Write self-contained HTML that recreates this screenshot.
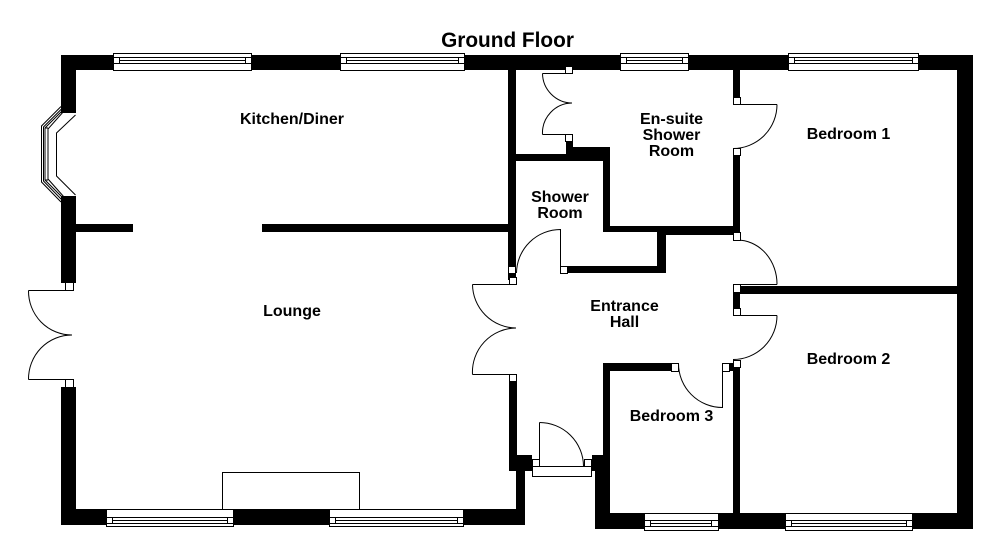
<!DOCTYPE html>
<html>
<head>
<meta charset="utf-8">
<style>
html,body{margin:0;padding:0;background:#fff;width:1000px;height:558px;overflow:hidden}
svg{display:block}
text{font-family:"Liberation Sans",Arial,sans-serif;font-weight:bold;font-size:16px;fill:#000;text-anchor:middle}
.w{fill:#000;stroke:none}
.l{fill:none;stroke:#000;stroke-width:1}
.f{fill:#fff;stroke:#000;stroke-width:1}
.c{shape-rendering:crispEdges}
</style>
</head>
<body>
<svg width="1000" height="558" viewBox="0 0 1000 558" xmlns="http://www.w3.org/2000/svg">
<!-- walls -->
<g class="w c">
<rect x="61" y="55" width="912" height="15"/>
<rect x="957" y="55" width="16" height="474"/>
<rect x="61" y="55" width="15" height="58"/>
<rect x="61" y="196" width="15" height="87"/>
<rect x="61" y="387" width="15" height="138"/>
<rect x="61" y="509" width="464" height="16"/>
<rect x="595" y="513" width="378" height="16"/>
<rect x="76" y="224" width="57" height="8"/>
<rect x="262" y="224" width="247" height="8"/>
<rect x="508" y="70" width="8" height="210"/>
<rect x="509" y="380" width="8" height="80"/>
<rect x="509" y="455" width="23" height="16"/>
<rect x="516" y="470" width="9" height="50"/>
<rect x="592" y="455" width="18" height="16"/>
<rect x="595" y="470" width="15" height="50"/>
<rect x="603" y="363" width="7" height="95"/>
<rect x="603" y="363" width="68" height="8"/>
<rect x="516" y="154" width="50" height="7"/>
<rect x="566" y="141" width="7" height="20"/>
<rect x="566" y="147" width="44" height="14"/>
<rect x="603" y="147" width="7" height="85"/>
<rect x="603" y="226" width="133" height="6"/>
<rect x="657" y="226" width="83" height="9"/>
<rect x="657" y="226" width="9" height="47"/>
<rect x="568" y="266" width="98" height="7"/>
<rect x="733" y="70" width="7" height="28"/>
<rect x="733" y="155" width="7" height="78"/>
<rect x="733" y="292" width="7" height="17"/>
<rect x="733" y="366" width="7" height="148"/>
<rect x="728" y="363" width="6" height="8"/>
<rect x="740" y="286" width="218" height="8"/>
</g>
<!-- windows -->
<g class="c">
<rect class="f" x="113.5" y="53.5" width="138" height="17"/>
<path class="l" d="M113.5 57.5H251.5M113.5 63.5H251.5M119.5 57.5V63.5M245.5 57.5V63.5M119.5 60.5H245.5"/>
<rect class="f" x="340.5" y="53.5" width="124" height="17"/>
<path class="l" d="M340.5 57.5H464.5M340.5 63.5H464.5M346.5 57.5V63.5M458.5 57.5V63.5M346.5 60.5H458.5"/>
<rect class="f" x="620.5" y="53.5" width="68" height="17"/>
<path class="l" d="M620.5 57.5H688.5M620.5 63.5H688.5M626.5 57.5V63.5M682.5 57.5V63.5M626.5 60.5H682.5"/>
<rect class="f" x="788.5" y="53.5" width="130" height="17"/>
<path class="l" d="M788.5 57.5H918.5M788.5 63.5H918.5M794.5 57.5V63.5M912.5 57.5V63.5M794.5 60.5H912.5"/>
<rect class="f" x="106.5" y="509.5" width="127" height="17"/>
<path class="l" d="M106.5 517.5H233.5M106.5 523.5H233.5M112.5 517.5V523.5M227.5 517.5V523.5M112.5 520.5H227.5"/>
<rect class="f" x="329.5" y="509.5" width="134" height="17"/>
<path class="l" d="M329.5 517.5H463.5M329.5 523.5H463.5M335.5 517.5V523.5M457.5 517.5V523.5M335.5 520.5H457.5"/>
<rect class="f" x="644.5" y="513.5" width="74" height="17"/>
<path class="l" d="M644.5 520.5H718.5M644.5 526.5H718.5M650.5 520.5V526.5M711.5 520.5V526.5M650.5 523.5H711.5"/>
<rect class="f" x="785.5" y="513.5" width="127" height="17"/>
<path class="l" d="M785.5 520.5H912.5M785.5 526.5H912.5M791.5 520.5V526.5M906.5 520.5V526.5M791.5 523.5H906.5"/>
<!-- chimney / fireplace -->
<path class="l" d="M222.5 509V472.5H359.5V509"/>
<!-- porch -->
<rect class="f" x="532.5" y="466.5" width="59" height="10"/>
<rect class="f" x="532.5" y="459.5" width="7" height="7"/>
<rect class="f" x="584.5" y="459.5" width="7" height="7"/>
<path class="l" d="M539.5 466V422.5"/>
</g>
<!-- bay window -->
<g>
<path class="l" d="M61 106.5L41.5 126V182L61 202"/>
<path class="l" d="M62 108.5L43.5 127V181L62 200"/>
<path class="l" d="M63 110L45 128V180L63 198"/>
<path class="l" d="M64 111L48 129V179L64 197"/>
<path class="l" d="M45 128H48M45 180H48"/>
<path class="l" d="M75.5 115L56.5 133V176L75.5 195"/>
</g>
<!-- door leaves and swings -->
<g class="l">
<path d="M539.5 422.5A44 44 0 0 1 583.5 466"/>
<path d="M28.5 290.5H73M28.5 290.5A44 44 0 0 0 72 335"/>
<path d="M28.5 379.5H73M28.5 379.5A44 44 0 0 1 72 335"/>
<path d="M472.5 284.5H516M472.5 284.5A44 44 0 0 0 516 328"/>
<path d="M472.5 374.5H516M472.5 374.5A44 44 0 0 1 516 328"/>
<path d="M560.5 273V229.5A44 44 0 0 0 516.5 273"/>
<path d="M542.5 73.5H566M542.5 73.5A30 30 0 0 0 572 103"/>
<path d="M542.5 134.5H566M542.5 134.5A30 30 0 0 1 572 103"/>
<path d="M733 104.5H777M777 104.5A44 44 0 0 1 733 148.5"/>
<path d="M737 240A40 44 0 0 1 777 284.5M733 284.5H777"/>
<path d="M733 315.5H777M777 315.5A44 44 0 0 1 733 359.5"/>
<path d="M722.5 363V407.5A44 44 0 0 1 678.5 363"/>
</g>
<!-- jamb squares -->
<g class="f c">
<rect x="65.5" y="282.5" width="8" height="8"/>
<rect x="65.5" y="379.5" width="8" height="8"/>
<rect x="508.5" y="266.5" width="7" height="7"/>
<rect x="509.5" y="277.5" width="7" height="7"/>
<rect x="509.5" y="374.5" width="7" height="7"/>
<rect x="560.5" y="266.5" width="7" height="7"/>
<rect x="565.5" y="66.5" width="7" height="7"/>
<rect x="565.5" y="134.5" width="7" height="7"/>
<rect x="733.5" y="97.5" width="7" height="7"/>
<rect x="733.5" y="148.5" width="7" height="7"/>
<rect x="733.5" y="232.5" width="7" height="8"/>
<rect x="733.5" y="284.5" width="7" height="8"/>
<rect x="733.5" y="308.5" width="7" height="7"/>
<rect x="733.5" y="360.5" width="7" height="7"/>
<rect x="722.5" y="363.5" width="7" height="8"/>
<rect x="671.5" y="363.5" width="7" height="8"/>
</g>
<!-- labels -->
<text x="507.5" y="47" style="font-size:20.8px">Ground Floor</text>
<text x="292" y="124">Kitchen/Diner</text>
<text x="292" y="316">Lounge</text>
<text x="671.5" y="124">En-suite</text>
<text x="671.5" y="140">Shower</text>
<text x="671.5" y="156">Room</text>
<text x="560" y="202">Shower</text>
<text x="560" y="218">Room</text>
<text x="848.5" y="139">Bedroom 1</text>
<text x="848.5" y="364">Bedroom 2</text>
<text x="671.5" y="421">Bedroom 3</text>
<text x="624.5" y="311">Entrance</text>
<text x="624.5" y="327">Hall</text>
</svg>
</body>
</html>
